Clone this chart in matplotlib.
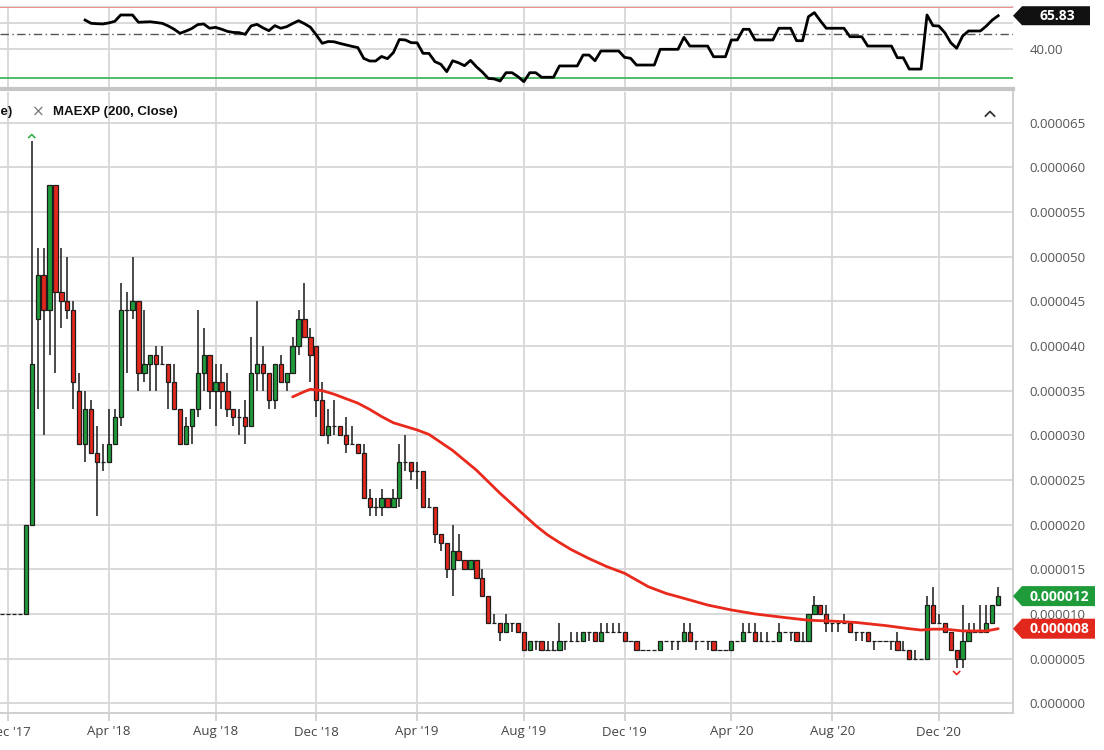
import numpy as np
import pandas as pd
import matplotlib
matplotlib.use("Agg")
import matplotlib.pyplot as plt
from matplotlib.patches import Rectangle, Polygon

# ---------------- data (prices in millionths) ----------------
first_week = "2017-11-27"
opens = [10, 10, 10, 10, 10, 20, 43, 48, 44, 58, 46, 45, 44, 35, 29, 33, 28, 27, 27, 29,
         32, 44, 44, 45, 37, 38, 39, 38, 38, 36, 33, 29, 31, 33, 37, 39, 35, 36, 35, 33,
         32, 32, 31, 37, 38, 37, 34, 38, 36, 37, 40, 43, 41, 40, 34, 30, 31, 31, 30, 29,
         29, 28, 23, 22, 22, 23, 22, 23, 27, 27, 26, 26, 22, 22, 19, 18, 15, 17, 16, 15,
         16, 14, 12, 9, 9, 8, 9, 9, 8, 6, 7, 7, 6, 6, 6, 7, 7, 7, 7, 8,
         8, 7, 8, 8, 8, 8, 7, 7, 6, 6, 6, 6, 7, 7, 7, 7, 8, 7, 7, 7,
         7, 6, 6, 6, 7, 7, 8, 8, 7, 7, 7, 7, 8, 8, 8, 7, 7, 10, 11, 10,
         9, 9, 9, 9, 8, 8, 8, 7, 7, 7, 7, 7, 6, 6, 5, 5, 5, 11, 9, 9,
         8, 6, 5, 7, 8, 8, 8, 9, 11]
highs = [10, 10, 10, 10, 20, 63, 51, 51, 58, 58, 51, 50, 45, 37, 35, 34, 31, 29, 33, 33,
         47, 46, 50, 45, 44, 39, 40, 40, 38, 38, 33, 32, 33, 44, 42, 39, 38, 38, 37, 33,
         33, 34, 41, 45, 40, 37, 38, 39, 37, 41, 44, 47, 42, 40, 36, 33, 34, 31, 32, 31,
         29, 29, 24, 23, 24, 23, 24, 29, 30, 27, 27, 26, 23, 22, 19, 18, 20, 19, 16, 16,
         16, 15, 12, 10, 9, 10, 9, 9, 8, 7, 7, 7, 7, 7, 9, 7, 8, 8, 8, 8,
         8, 9, 9, 9, 9, 8, 7, 7, 6, 6, 6, 7, 7, 7, 7, 9, 9, 7, 7, 7,
         7, 6, 6, 7, 7, 9, 9, 9, 8, 8, 7, 9, 8, 8, 8, 8, 10, 12, 11, 11,
         9, 9, 10, 9, 8, 8, 8, 7, 7, 7, 7, 8, 7, 6, 6, 5, 12, 13, 10, 9,
         8, 6, 11, 9, 9, 11, 11, 11, 13]
lows = [10, 10, 10, 10, 10, 20, 33, 30, 39, 37, 42, 43, 33, 29, 27, 28, 21, 26, 27, 29,
        31, 37, 43, 35, 36, 35, 35, 38, 33, 33, 29, 29, 29, 32, 35, 33, 31, 33, 32, 31,
        30, 29, 31, 35, 35, 33, 33, 36, 35, 37, 39, 41, 36, 32, 30, 29, 30, 30, 28, 29,
        28, 23, 21, 21, 21, 22, 22, 22, 26, 25, 24, 22, 22, 18, 17, 14, 12, 16, 15, 15,
        14, 12, 9, 9, 7, 8, 8, 8, 6, 6, 6, 6, 6, 6, 6, 6, 7, 7, 7, 7,
        7, 7, 8, 8, 8, 7, 7, 6, 6, 6, 6, 6, 7, 6, 6, 7, 7, 6, 7, 6,
        6, 6, 6, 6, 7, 7, 8, 7, 7, 7, 7, 7, 8, 7, 7, 7, 7, 10, 10, 8,
        8, 8, 9, 8, 7, 7, 7, 6, 7, 7, 6, 6, 6, 5, 5, 5, 5, 9, 9, 8,
        6, 4, 4, 7, 8, 8, 8, 9, 11]
closes = [10, 10, 10, 10, 20, 38, 48, 44, 58, 46, 45, 44, 36, 29, 33, 28, 27, 27, 29, 32,
          44, 44, 45, 37, 38, 39, 38, 38, 36, 33, 29, 31, 33, 37, 39, 35, 36, 35, 33, 32,
          32, 31, 37, 38, 37, 34, 38, 36, 37, 40, 43, 41, 39, 34, 30, 31, 31, 30, 29, 29,
          28, 23, 22, 22, 23, 22, 23, 27, 27, 26, 26, 22, 22, 19, 18, 15, 17, 16, 15, 16,
          14, 12, 9, 9, 8, 9, 9, 8, 6, 7, 7, 6, 6, 6, 7, 7, 7, 7, 8, 8,
          7, 8, 8, 8, 8, 7, 7, 6, 6, 6, 6, 7, 7, 7, 7, 8, 7, 7, 7, 7,
          6, 6, 6, 7, 7, 8, 8, 7, 7, 7, 7, 8, 8, 8, 7, 7, 10, 11, 10, 9,
          9, 9, 9, 8, 8, 8, 7, 7, 7, 7, 7, 6, 6, 5, 5, 5, 11, 9, 9, 8,
          6, 5, 7, 8, 8, 8, 9, 11, 12]

# EMA(200) read at selected week indices (weeks after 2017-12-04)
ema_weeks = [48, 50, 51, 53, 55, 57, 59, 61, 63, 65, 67, 69, 71, 73, 75, 77, 79, 81,
             83, 85, 87, 89, 91, 93, 95, 98, 101, 104, 108, 111, 114, 118, 122, 126,
             131, 135, 139, 143, 148, 152, 154, 156, 158, 161, 165, 167]
ema_vals = [34.3, 34.9, 35.15, 35.0, 34.6, 34.1, 33.6, 32.9, 32.1, 31.4, 31.0, 30.6,
            30.1, 29.2, 28.3, 27.2, 26.1, 24.8, 23.5, 22.3, 21.1, 19.9, 18.85, 18.0,
            17.2, 16.2, 15.3, 14.55, 13.05, 12.3, 11.75, 11.0, 10.45, 10.0, 9.6, 9.3,
            9.2, 9.05, 8.7, 8.35, 8.2, 8.3, 8.3, 8.1, 8.1, 8.35]

# oscillator, weekly from week 13 to week 167
osc_start = 13
osc_vals = [62.5, 60, 59.7, 59.5, 60.3, 61.5, 66.4, 66.4, 66.4, 60.8, 61, 61.2, 60.6,
            60, 58, 55.5, 52.3, 54, 56, 59, 59.5, 56.2, 56.9, 55.5, 53.8, 53, 52.8,
            51.5, 58, 59.2, 56.5, 54.3, 58.2, 56.2, 57.4, 59.8, 62, 59.7, 57, 51,
            44.6, 46, 45.8, 44.5, 43.4, 42.3, 41.3, 33, 31, 31, 34.5, 32.8, 37.5,
            47.5, 47.2, 45.1, 45, 36.9, 36.9, 30.5, 28.5, 22.8, 31.2, 29.6, 27.4,
            31.5, 26.6, 22.5, 17.6, 17.2, 15.6, 22, 22, 19, 15.1, 22, 22, 18.5,
            18.5, 18.5, 27.2, 27.2, 27.2, 27.2, 35.6, 35.6, 31.2, 38.7, 38.7, 38.7,
            38.7, 33.8, 33.1, 27.9, 27.9, 27.9, 27.9, 40, 40, 40, 40, 49.2, 42.5,
            42.5, 42.5, 42.5, 34.3, 34.3, 34.3, 47.2, 47.2, 55.4, 55.4, 47.2, 47.2,
            47.2, 47.2, 56.2, 56.2, 56.2, 46.6, 46.6, 65.1, 68.2, 62, 56.2, 56.2,
            56.2, 56.2, 49.7, 49.7, 49.7, 42.5, 42.5, 42.5, 42.5, 42.5, 33.5, 33.5,
            24.8, 24.8, 24.8, 66.4, 58.2, 57.9, 52.8, 45.1, 40.8, 50.2, 54.1, 54.1,
            54.1, 57.9, 62.5, 65.83]
osc_upper, osc_mid, osc_lower = 72.3, 51.5, 17.7
osc_last_label = "65.83"

tick_months = ["2017-12", "2018-04", "2018-08", "2018-12", "2019-04", "2019-08",
               "2019-12", "2020-04", "2020-08", "2020-12"]
tick_labels = ["Dec '17", "Apr '18", "Aug '18", "Dec '18", "Apr '19", "Aug '19",
               "Dec '19", "Apr '20", "Aug '20", "Dec '20"]
price_ticks = list(range(0, 70, 5))
legend_hidden = "RSI (14, Close)"
legend_ma = "MAEXP (200, Close)"

# ---------------- setup ----------------
SC = 1e-6
dates = pd.date_range(first_week, periods=len(opens), freq="W-MON")
xw = np.asarray((dates - pd.Timestamp("2017-12-04")).days / 7.0)
O = np.array(opens) * SC
Hh = np.array(highs) * SC
L = np.array(lows) * SC
C = np.array(closes) * SC

GREEN = "#1f9b3a"
RED = "#e2271d"
EDGE = "#1e1e1e"
GRID = "#d7d7d7"

W, H = 1104, 750
fig = plt.figure(figsize=(W / 100, H / 100), dpi=100)
fig.patch.set_facecolor("white")


def px_axes(left, top, right, bottom, **kw):
    return fig.add_axes([left / W, 1 - bottom / H, (right - left) / W, (bottom - top) / H], **kw)


ax = px_axes(0, 92, 1013, 713)
rax = px_axes(0, 5.5, 1013, 89)

xlim = (-1.35, 169.5)
tick_pos = []
for m in tick_months:
    sel = xw[(dates.strftime("%Y-%m") == m)]
    tick_pos.append(sel[0])

# ---------------- main candles ----------------
ax.set_xlim(*xlim)
ax.set_ylim(-1.086 * SC, 68.43 * SC)
bw = 0.72
ax.vlines(xw, L, Hh, color="#333333", lw=1.25, zorder=2)
for xi, o, h, l, c in zip(xw, O, Hh, L, C):
    col = GREEN if c >= o else RED
    ax.add_patch(Rectangle((xi - bw / 2, min(o, c)), bw, abs(c - o), facecolor=col,
                           edgecolor=EDGE, lw=0.9, zorder=3))

ema_x = [xw[k + 1] for k in ema_weeks]
ax.plot(ema_x, np.array(ema_vals) * SC, color="#e8291c", lw=2.0, zorder=4,
        solid_capstyle="round", solid_joinstyle="round")

ax.set_yticks(np.array(price_ticks) * SC)
ax.set_yticklabels([f"{v * SC:.6f}" for v in price_ticks])
ax.yaxis.tick_right()
ax.set_xticks(tick_pos)
ax.set_xticklabels(tick_labels)
ax.grid(True, color=GRID, lw=1.3)
ax.set_axisbelow(True)
for s in ["left", "top"]:
    ax.spines[s].set_visible(False)
for s in ["right", "bottom"]:
    ax.spines[s].set_color("#cfcfcf")
    ax.spines[s].set_linewidth(1.4)
ax.tick_params(axis="y", length=0, pad=12, labelsize=9.5, labelcolor="#555555")
ax.tick_params(axis="x", length=6, width=1.3, color="#d0d0d0", pad=3, labelsize=9.5,
               labelcolor="#444444")
for lab in ax.get_xticklabels() + ax.get_yticklabels():
    lab.set_fontfamily(["Open Sans", "DejaVu Sans"])

# ---------------- oscillator ----------------
osc_x = xw[osc_start + 1: osc_start + 1 + len(osc_vals)]
ov_arr = np.array(osc_vals)
rax.set_xlim(*xlim)
rax.set_ylim(9.46, 73.7)
rax.axhline(osc_upper, color="#f06a60", lw=1.2, zorder=2)
rax.axhline(osc_lower, color="#35b04a", lw=1.2, zorder=2)
rax.axhline(osc_mid, color="#555555", lw=1.0, ls=(0, (6, 2.5, 1, 2.5)), zorder=2)
rax.fill_between(osc_x, ov_arr, osc_lower, where=ov_arr < osc_lower, interpolate=True,
                 color="#2aa845", lw=0, zorder=2)
rax.plot(osc_x, ov_arr, color="black", lw=2.0, zorder=3, solid_joinstyle="round")
rax.set_yticks([40, 60])
rax.set_yticklabels(["40.00", ""])
rax.yaxis.tick_right()
rax.set_xticks(tick_pos)
rax.tick_params(axis="x", length=0, labelbottom=False)
rax.tick_params(axis="y", length=0, pad=12, labelsize=9.5, labelcolor="#555555")
for lab in rax.get_yticklabels():
    lab.set_fontfamily(["Open Sans", "DejaVu Sans"])
rax.grid(True, color=GRID, lw=1.3)
rax.set_axisbelow(True)
for s in ["left", "right"]:
    rax.spines[s].set_visible(False)
rax.spines["top"].set_color("#dcdcdc")
rax.spines["top"].set_linewidth(1.0)
rax.spines["bottom"].set_color("#c6c6c6")
rax.spines["bottom"].set_linewidth(3.0)

# ---------------- overlay (tags, legend) ----------------
ovl = fig.add_axes([0, 0, 1, 1], zorder=10)
ovl.set_xlim(0, W)
ovl.set_ylim(H, 0)
ovl.axis("off")
ovl.patch.set_alpha(0)


def to_px(axis, x, y):
    d = axis.transData.transform((x, y))
    return d[0], H - d[1]


def tag(yc, text, color, x0=1013, x1=1095, h=20):
    pts = [(x0, yc), (x0 + 9, yc - h / 2), (x1, yc - h / 2), (x1, yc + h / 2), (x0 + 9, yc + h / 2)]
    ovl.add_patch(Polygon(pts, closed=True, facecolor=color, edgecolor="none"))
    ovl.text((x0 + 9 + x1) / 2 + 1, yc + 0.5, text, color="white", fontsize=10, fontweight="bold",
             ha="center", va="center", family=["Open Sans", "DejaVu Sans"])


_, y_last = to_px(ax, 0, C[-1])
_, y_ema = to_px(ax, 0, ema_vals[-1] * SC)
_, y_osc = to_px(rax, 0, osc_vals[-1])
tag(y_last, f"{closes[-1] * SC:.6f}", GREEN)
tag(y_ema, f"{round(ema_vals[-1]) * SC:.6f}", RED)
tag(y_osc, osc_last_label, "#111111", x1=1090, h=19)

# legend
ovl.text(12, 112, legend_hidden, ha="right", va="center", fontsize=9.5, fontweight="bold",
         color="#111111", family=["Liberation Sans", "DejaVu Sans"])
ovl.text(38, 112, "×", ha="center", va="center", fontsize=11, color="#777777")
ovl.text(53, 112, legend_ma, ha="left", va="center", fontsize=9.5, fontweight="bold",
         color="#111111", family=["Liberation Sans", "DejaVu Sans"])
ovl.plot([985.5, 990, 994.5], [116, 111.5, 116], color="#333333", lw=1.3)

# high / low markers
imax = int(np.argmax(Hh))
imin = int(np.argmin(L))
hx, hy = to_px(ax, xw[imax], Hh[imax])
ovl.plot([hx - 3, hx, hx + 3], [hy - 3, hy - 6, hy - 3], color="#35b04a", lw=1.2)
lx, ly = to_px(ax, xw[imin], L[imin])
ovl.plot([lx - 3, lx, lx + 3], [ly + 4, ly + 7, ly + 4], color="#e2271d", lw=1.2)

fig.savefig("out.png", dpi=100, facecolor="white")
